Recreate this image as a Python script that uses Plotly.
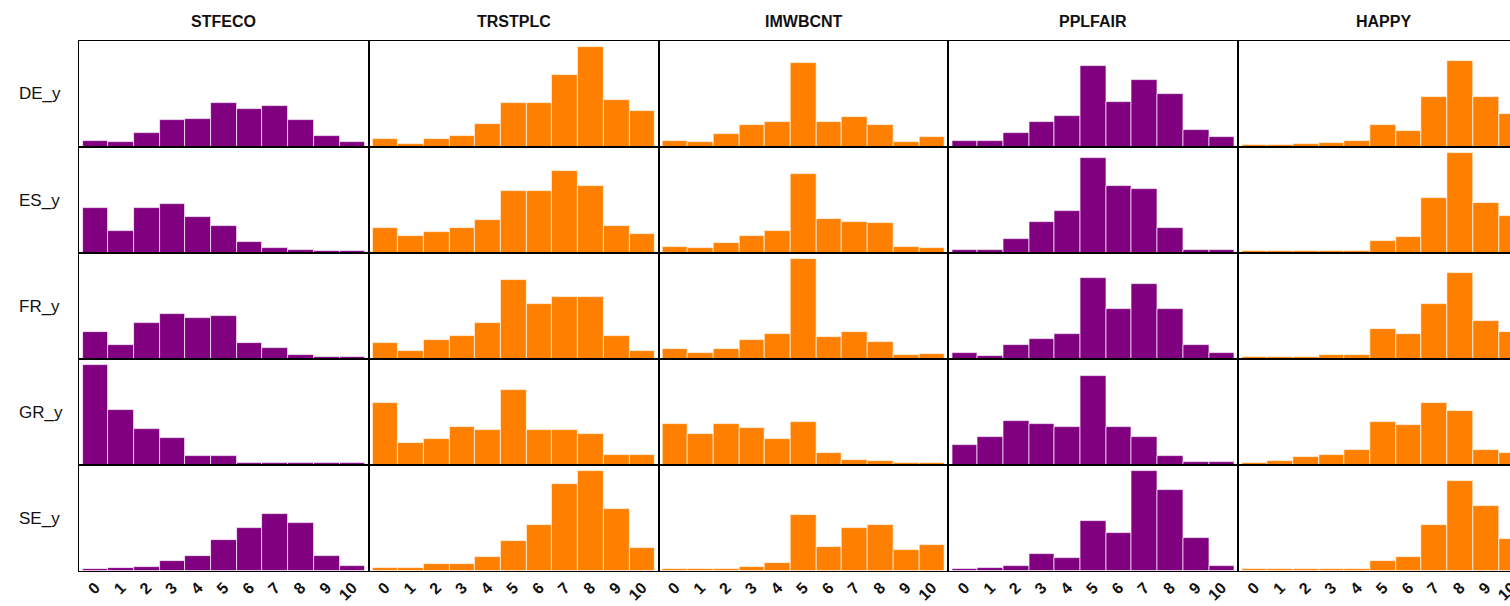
import plotly.graph_objects as go
from plotly.subplots import make_subplots

# Response scale 0-10 and its tick labels
scores = list(range(11))
tick_labels = [str(s) for s in scores]

countries = ["DE_y", "ES_y", "FR_y", "GR_y", "SE_y"]
items = ["STFECO", "TRSTPLC", "IMWBCNT", "PPLFAIR", "HAPPY"]
item_colors = ["#800080", "#FF8000", "#FF8000", "#800080", "#FF8000"]

# Answer frequencies per country for each item (scores 0..10)
stfeco = {
    "DE_y": [19, 15, 42, 78, 83, 129, 110, 119, 78, 33, 15],
    "ES_y": [133, 64, 133, 142, 106, 78, 32, 15, 9, 6, 6],
    "FR_y": [78, 40, 106, 133, 119, 127, 46, 32, 13, 6, 6],
    "GR_y": [291, 160, 105, 78, 26, 26, 7, 7, 5, 5, 5],
    "SE_y": [5, 8, 12, 30, 43, 89, 125, 165, 138, 43, 15],
}
trstplc = {
    "DE_y": [24, 10, 24, 33, 68, 129, 129, 210, 291, 138, 106],
    "ES_y": [74, 51, 60, 74, 96, 182, 182, 241, 196, 78, 55],
    "FR_y": [46, 22, 55, 68, 106, 232, 160, 182, 182, 68, 22],
    "GR_y": [182, 65, 76, 112, 103, 218, 103, 103, 91, 29, 29],
    "SE_y": [8, 8, 21, 21, 42, 88, 135, 252, 289, 180, 66],
}
imwbcnt = {
    "DE_y": [19, 15, 37, 64, 73, 246, 73, 87, 64, 15, 28],
    "ES_y": [19, 15, 28, 51, 64, 232, 100, 91, 87, 19, 15],
    "FR_y": [28, 19, 28, 55, 73, 291, 64, 78, 50, 12, 15],
    "GR_y": [121, 91, 121, 109, 76, 127, 34, 16, 12, 5, 5],
    "SE_y": [6, 6, 6, 12, 24, 162, 70, 125, 135, 61, 76],
}
pplfair = {
    "DE_y": [19, 19, 42, 74, 92, 237, 133, 196, 155, 51, 28],
    "ES_y": [10, 10, 42, 91, 124, 278, 196, 187, 73, 10, 10],
    "FR_y": [19, 10, 40, 59, 73, 237, 146, 219, 146, 40, 19],
    "GR_y": [58, 81, 130, 121, 112, 259, 112, 81, 26, 9, 9],
    "SE_y": [5, 10, 15, 49, 39, 144, 111, 289, 234, 97, 15],
}
happy = {
    "DE_y": [5, 5, 8, 13, 19, 64, 46, 147, 251, 147, 96],
    "ES_y": [5, 5, 5, 5, 7, 36, 46, 160, 291, 146, 108],
    "FR_y": [5, 5, 7, 13, 13, 87, 73, 160, 250, 110, 78],
    "GR_y": [6, 12, 22, 30, 45, 126, 117, 180, 158, 45, 35],
    "SE_y": [5, 5, 6, 6, 6, 30, 42, 135, 261, 190, 93],
}
item_data = [stfeco, trstplc, imwbcnt, pplfair, happy]

W, H = 1540, 606
L, R, T, B = 79, 12, 41, 35
FONT = "Liberation Sans, Arial, sans-serif"

fig = make_subplots(rows=5, cols=5, horizontal_spacing=0, vertical_spacing=0)

for r, country in enumerate(countries, start=1):
    row_max = max(max(d[country]) for d in item_data)
    for c, (data, color) in enumerate(zip(item_data, item_colors), start=1):
        fig.add_trace(
            go.Bar(
                x=scores,
                y=data[country],
                width=1,
                marker=dict(color=color, line=dict(color="rgba(255,255,255,0.85)", width=0.8)),
                showlegend=False,
                hoverinfo="x+y",
            ),
            row=r, col=c,
        )
        fig.update_yaxes(
            range=[0, row_max * 1.065], showticklabels=False, showgrid=False,
            zeroline=False, showline=True, mirror=True, linecolor="#000000",
            linewidth=1, ticks="", automargin=False, row=r, col=c,
        )
        fig.update_xaxes(
            range=[-0.64, 10.64], showgrid=False, zeroline=False, showline=True,
            mirror=True, linecolor="#000000", linewidth=1, ticks="",
            tickmode="array", tickvals=scores, ticktext=tick_labels,
            showticklabels=(r == 5), tickangle=-45, automargin=False,
            tickfont=dict(family=FONT, size=16, color="#111111", weight="bold"),
            row=r, col=c,
        )

plot_w = W - L - R
plot_h = H - T - B
annotations = []
for c, name in enumerate(items):
    annotations.append(dict(
        text=f"<b>{name}</b>", xref="paper", yref="paper",
        x=(c + 0.5) / 5, y=1 + (T - 22) / plot_h, xanchor="center", yanchor="middle",
        showarrow=False, font=dict(family=FONT, size=16, color="#111111"),
    ))
for r, country in enumerate(countries):
    annotations.append(dict(
        text=country, xref="paper", yref="paper",
        x=(17 - L) / plot_w, y=1 - (r + 0.5) / 5, xanchor="left", yanchor="middle",
        showarrow=False, font=dict(family=FONT, size=17, color="#111111"),
    ))

fig.update_layout(
    width=W, height=H,
    margin=dict(l=L, r=R, t=T, b=B, autoexpand=False),
    paper_bgcolor="white", plot_bgcolor="white",
    bargap=0, annotations=annotations,
    font=dict(family=FONT),
)

fig.write_html(
    "out.html",
    post_script="document.documentElement.style.overflow='hidden';document.body.style.overflow='hidden';document.body.style.margin='0';",
)
